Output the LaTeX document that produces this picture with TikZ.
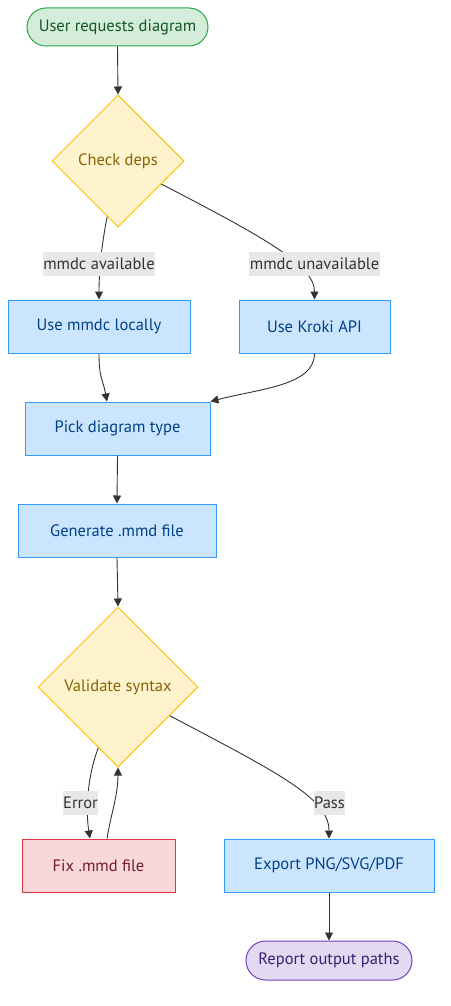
\documentclass[tikz,border=0pt]{standalone}
\usepackage{fontspec}
\setmainfont{PT Sans}
\usetikzlibrary{shapes.geometric,shapes.misc,arrows.meta}
\definecolor{gfill}{HTML}{D4EDDA}\definecolor{gdraw}{HTML}{28A745}\definecolor{gtext}{HTML}{155724}
\definecolor{bfill}{HTML}{CCE5FF}\definecolor{bdraw}{HTML}{3399FF}\definecolor{btext}{HTML}{004085}
\definecolor{yfill}{HTML}{FFF3CD}\definecolor{ydraw}{HTML}{FFC107}\definecolor{ytext}{HTML}{856404}
\definecolor{rfill}{HTML}{F8D7DA}\definecolor{rdraw}{HTML}{DC3545}\definecolor{rtext}{HTML}{721C24}
\definecolor{pfill}{HTML}{E2D9F3}\definecolor{pdraw}{HTML}{6F42C1}\definecolor{ptext}{HTML}{3D1E6D}
\definecolor{edgec}{HTML}{333333}\definecolor{lblbg}{HTML}{E8E8E8}
\tikzset{
  base/.style={font=\fontsize{16.5}{19}\selectfont, line width=1pt, inner sep=0pt},
  startbox/.style={base, rounded rectangle, fill=gfill, draw=gdraw, text=gtext},
  endbox/.style={base, rounded rectangle, fill=pfill, draw=pdraw, text=ptext},
  procbox/.style={base, rectangle, fill=bfill, draw=bdraw, text=btext},
  fixbox/.style={base, rectangle, fill=rfill, draw=rdraw, text=rtext},
  decbox/.style={base, diamond, aspect=1, fill=yfill, draw=ydraw, text=ytext},
  edge/.style={draw=edgec, line width=0.9pt, -{Triangle[length=8pt,width=8pt]}},
  elabel/.style={font=\fontsize{16.5}{19}\selectfont, fill=lblbg, text=edgec, inner sep=0.5pt, minimum height=24pt}
}
\begin{document}
\begin{tikzpicture}[x=1pt,y=-1pt]
\useasboundingbox (0,0) rectangle (450,1006);
\node[startbox, minimum width=181pt, minimum height=38pt] (start) at (117.5,27) {User requests diagram};
\node[decbox, minimum width=132pt, minimum height=132pt] (check) at (118,161) {Check deps};
\node[procbox, minimum width=182pt, minimum height=53pt] (mmdc) at (99,326.5) {Use mmdc locally};
\node[procbox, minimum width=151pt, minimum height=53pt] (kroki) at (314.5,326.5) {Use Kroki API};
\node[procbox, minimum width=185pt, minimum height=53pt] (pick) at (117.5,428.5) {Pick diagram type};
\node[procbox, minimum width=198pt, minimum height=53pt] (gen) at (117,530.5) {Generate .mmd file};
\node[decbox, minimum width=160pt, minimum height=160pt] (val) at (118,687) {Validate syntax};
\node[fixbox, minimum width=153pt, minimum height=53pt] (fix) at (98.5,865.5) {Fix .mmd file};
\node[procbox, minimum width=210pt, minimum height=53pt] (export) at (329,865.5) {Export PNG/SVG/PDF};
\node[endbox, minimum width=166pt, minimum height=39pt] (report) at (329,960.5) {Report output paths};

\draw[edge] (start.south) -- (check.north);
\draw[edge] (check.259) .. controls +(-5,25) and +(0,-30) .. (mmdc.north);
\draw[edge] (check.332) .. controls +(100,52) and +(0,-35) .. (kroki.north);
\draw[edge] (mmdc.south) .. controls +(0,25) and +(-4,-22) .. ([xshift=-10.5pt]pick.north);
\draw[edge] (kroki.south) .. controls +(0,32) and +(50,-13) .. (pick.north east);
\draw[edge] (pick.south) -- (gen.north);
\draw[edge] (gen.south) -- (val.north);
\draw[edge] (val.252) .. controls +(-12,32) and +(-4,-25) .. ([xshift=-8.5pt]fix.north);
\draw[edge] ([xshift=8.5pt]fix.north) .. controls +(4,-25) and +(0,28) .. (val.south);
\draw[edge] (val.331) .. controls +(110,58) and +(0,-40) .. (export.north);
\draw[edge] (export.south) -- (report.north);

\node[elabel] (l1) at (99,264) {mmdc available};
\node[elabel] (l2) at (314.5,264) {mmdc unavailable};
\node[elabel] (l3) at (80.5,802.5) {Error};
\node[elabel] (l4) at (329.5,802.5) {Pass};
\end{tikzpicture}
\end{document}
